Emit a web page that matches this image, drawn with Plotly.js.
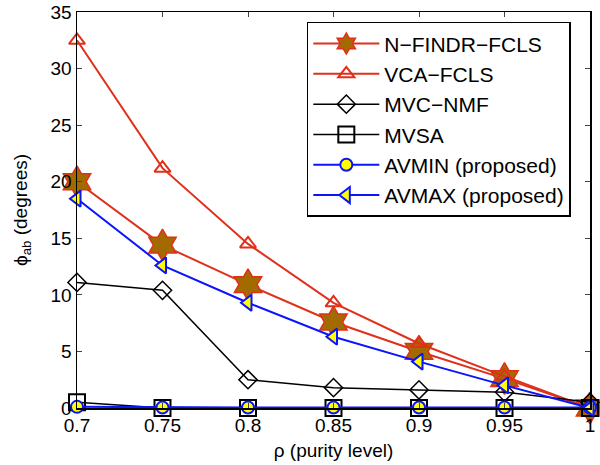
<!DOCTYPE html>
<html><head><meta charset="utf-8">
<script src="https://cdn.plot.ly/plotly-3.0.1.min.js"></script>
<style>body{margin:0;background:#fff}#c{width:600px;height:465px}</style>
</head><body><div id="c"></div>
<script>
const rho = [0.7, 0.75, 0.8, 0.85, 0.9, 0.95, 1];
const nfindr = [20.0, 14.4, 10.9, 7.6, 5.0, 2.6, 0.0];
const vca = [32.5, 21.2, 14.5, 9.3, 5.7, 2.8, 0.0];
const mvcnmf = [11.1, 10.4, 2.5, 1.8, 1.6, 1.4, 0.5];
const mvsa = [0.5, 0.0, 0.0, 0.0, 0.0, 0.0, 0.0];
const avmin = [0.1, 0.05, 0.05, 0.05, 0.05, 0.05, 0.05];
const avmax = [18.5, 12.6, 9.3, 6.3, 4.1, 2.0, 0.0];
const names = ['N\u2212FINDR\u2212FCLS','VCA\u2212FCLS','MVC\u2212NMF','MVSA','AVMIN (proposed)','AVMAX (proposed)'];

const red = '#e0301a', blue = '#0a14ff';
const traces = [
 {x: rho, y: nfindr, name: names[0], mode:'lines+markers', line:{color:red,width:2}, cliponaxis:false,
  marker:{symbol:'hexagram', size:24, color:'#a36a00', line:{color:red,width:1.5}}},
 {x: rho, y: vca, name: names[1], mode:'lines+markers', line:{color:red,width:2}, cliponaxis:false,
  marker:{symbol:'triangle-up-open', size:14, color:red, line:{width:2}}},
 {x: rho, y: mvcnmf, name: names[2], mode:'lines+markers', line:{color:'#000',width:1.5}, cliponaxis:false,
  marker:{symbol:'diamond-open', size:14, color:'#000', line:{width:1.5}}},
 {x: rho, y: mvsa, name: names[3], mode:'lines+markers', line:{color:'#000',width:1.5}, cliponaxis:false,
  marker:{symbol:'square-open', size:16, color:'#000', line:{width:2}}},
 {x: rho, y: avmin, name: names[4], mode:'lines+markers', line:{color:blue,width:2}, cliponaxis:false,
  marker:{symbol:'circle', size:12, color:'#ffff00', line:{color:blue,width:2}}},
 {x: rho, y: avmax, name: names[5], mode:'lines+markers', line:{color:blue,width:2}, cliponaxis:false,
  marker:{symbol:'triangle-left', size:14, color:'#ffff00', line:{color:blue,width:2}}}
];
const layout = {
  width:600, height:465,
  margin:{l:77, r:10, t:12, b:57},
  paper_bgcolor:'#fff', plot_bgcolor:'#fff',
  font:{family:'Liberation Sans, Arial, sans-serif', size:19, color:'#000'},
  showlegend:true,
  legend:{x:0.448, y:0.975, xanchor:'left', yanchor:'top', bordercolor:'#000', borderwidth:1.5,
    bgcolor:'#fff', font:{size:21}, tracegroupgap:0, itemwidth:66},
  xaxis:{range:[0.7,1], tickvals:rho, ticktext:['0.7','0.75','0.8','0.85','0.9','0.95','1'],
    ticks:'inside', ticklen:5, tickwidth:1, showline:true, linewidth:1.5, linecolor:'#000', mirror:'ticks',
    showgrid:false, zeroline:false, title:{text:'\u03c1 (purity level)', font:{size:19}, standoff:8}},
  yaxis:{range:[0,35], dtick:5, ticks:'inside', ticklen:5, tickwidth:1, showline:true, linewidth:1.5,
    linecolor:'#000', mirror:'ticks', showgrid:false, zeroline:false,
    title:{text:'\u03d5<sub>ab</sub> (degrees)', font:{size:19}, standoff:18}}
};
Plotly.newPlot('c', traces, layout, {displayModeBar:false, staticPlot:true});
</script></body></html>
